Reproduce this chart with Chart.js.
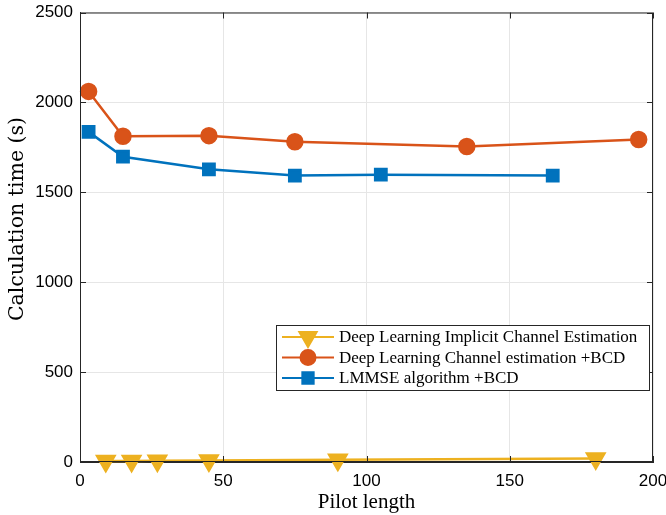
<!DOCTYPE html>
<html>
<head>
<meta charset="utf-8">
<script src="https://cdn.jsdelivr.net/npm/chart.js@4"></script>
<style>
  body { margin: 0; background: #fff; }
  #wrap { width: 666px; height: 515px; }
</style>
</head>
<body>
<div id="wrap"><canvas id="timeChart" width="666" height="515"></canvas></div>
<script>
// values
const implicitX = [9, 18, 27, 45, 90, 180];
const implicitY = [5, 6, 7, 8, 12, 20];
const dlBcdX = [3, 15, 45, 75, 135, 195];
const dlBcdY = [2061, 1812, 1815, 1781, 1755, 1794];
const lmmseX = [3, 15, 45, 75, 105, 165];
const lmmseY = [1836, 1698, 1628, 1593, 1598, 1593];
const seriesNames = [
  'Deep Learning Implicit Channel Estimation',
  'Deep Learning Channel estimation +BCD',
  'LMMSE algorithm +BCD'
];
const xTicks = [0, 50, 100, 150, 200];
const yTicks = [0, 500, 1000, 1500, 2000, 2500];
const yTitle = 'Calculation time (s)';

function toPoints(xs, ys) {
  return xs.map((x, i) => ({ x: x, y: ys[i] }));
}

const axisColor = '#262626';
const tickFont = { family: 'Liberation Sans, Arial, sans-serif', size: 17 };

// box + inner ticks, like the matlab axes
const boxPlugin = {
  id: 'box',
  afterDatasetsDraw(chart) {
    const { ctx, chartArea: a, scales } = chart;
    ctx.save();
    ctx.strokeStyle = axisColor;
    ctx.lineWidth = 1;
    ctx.strokeRect(a.left + 0.5, a.top + 0.5, a.right - a.left - 1, a.bottom - a.top - 1);
    ctx.beginPath();
    xTicks.forEach(v => {
      const px = Math.round(scales.x.getPixelForValue(v)) + 0.5;
      ctx.moveTo(px, a.bottom); ctx.lineTo(px, a.bottom - 6);
      ctx.moveTo(px, a.top); ctx.lineTo(px, a.top + 6);
    });
    yTicks.forEach(v => {
      const py = Math.round(scales.y.getPixelForValue(v)) + 0.5;
      ctx.moveTo(a.left, py); ctx.lineTo(a.left + 6, py);
      ctx.moveTo(a.right, py); ctx.lineTo(a.right - 6, py);
    });
    ctx.stroke();
    // y axis title sits a bit above the middle in the original
    ctx.translate(18, 219);
    ctx.rotate(-Math.PI / 2);
    ctx.font = '20.5px "DejaVu Serif", serif';
    ctx.fillStyle = '#000';
    ctx.textAlign = 'center';
    ctx.textBaseline = 'middle';
    ctx.fillText(yTitle, 0, 0);
    ctx.restore();
  }
};

// legend box inside the plot, lower right
const legendPlugin = {
  id: 'boxLegend',
  afterDraw(chart) {
    const { ctx } = chart;
    const x0 = 276, y0 = 325, w = 373, h = 65;
    ctx.save();
    ctx.fillStyle = '#fff';
    ctx.fillRect(x0, y0, w, h);
    ctx.strokeStyle = axisColor;
    ctx.lineWidth = 1;
    ctx.strokeRect(x0 + 0.5, y0 + 0.5, w, h);
    ctx.font = '17px "Liberation Serif", "DejaVu Serif", serif';
    ctx.textBaseline = 'middle';
    chart.data.datasets.forEach((ds, i) => {
      const cy = y0 + 12 + i * 20.5;
      ctx.strokeStyle = ds.borderColor;
      ctx.lineWidth = 2;
      ctx.beginPath();
      ctx.moveTo(x0 + 6, cy); ctx.lineTo(x0 + 58, cy);
      ctx.stroke();
      Chart.helpers.drawPoint(ctx, {
        pointStyle: ds.pointStyle, radius: ds.pointRadius,
        rotation: ds.pointRotation || 0, borderWidth: 1
      }, x0 + 32, cy);
      ctx.fillStyle = ds.pointBackgroundColor;
      ctx.fill();
      ctx.fillStyle = '#000';
      ctx.fillText(seriesNames[i], x0 + 63, cy + 1);
    });
    ctx.restore();
  }
};

const ctx = document.getElementById('timeChart').getContext('2d');
const myChart = new Chart(ctx, {
  type: 'line',
  data: {
    datasets: [
      {
        label: seriesNames[0],
        data: toPoints(implicitX, implicitY),
        borderColor: '#EDB120', backgroundColor: '#EDB120',
        pointBackgroundColor: '#EDB120', pointBorderColor: '#EDB120',
        pointStyle: 'triangle', pointRotation: 180, pointRadius: 10,
        borderWidth: 2.5
      },
      {
        label: seriesNames[1],
        data: toPoints(dlBcdX, dlBcdY),
        borderColor: '#D95319', backgroundColor: '#D95319',
        pointBackgroundColor: '#D95319', pointBorderColor: '#D95319',
        pointStyle: 'circle', pointRadius: 7.5,
        borderWidth: 2.5
      },
      {
        label: seriesNames[2],
        data: toPoints(lmmseX, lmmseY),
        borderColor: '#0072BD', backgroundColor: '#0072BD',
        pointBackgroundColor: '#0072BD', pointBorderColor: '#0072BD',
        pointStyle: 'rect', pointRadius: 8,
        borderWidth: 2.5
      }
    ]
  },
  options: {
    responsive: false,
    animation: false,
    clip: false,
    layout: { padding: { top: 8, right: 13, left: 0, bottom: 0 } },
    plugins: { legend: { display: false }, tooltip: { enabled: false } },
    scales: {
      x: {
        type: 'linear', min: 0, max: 200,
        afterFit(scale) { scale.height = 53; scale.paddingLeft = 0; scale.paddingRight = 0; },
        afterBuildTicks(scale) { scale.ticks = xTicks.map(v => ({ value: v })); },
        ticks: { color: '#000', font: tickFont, padding: 9, maxRotation: 0, callback: v => String(v) },
        grid: { color: '#e6e6e6', drawTicks: false },
        border: { color: axisColor },
        title: {
          display: true, text: 'Pilot length', color: '#000',
          font: { family: 'Liberation Serif, serif', size: 21 }, padding: { top: 0, bottom: 0 }
        }
      },
      y: {
        type: 'linear', min: 0, max: 2500,
        afterFit(scale) { scale.width = 80; scale.paddingTop = 0; scale.paddingBottom = 0; },
        afterBuildTicks(scale) { scale.ticks = yTicks.map(v => ({ value: v })); },
        ticks: { color: '#000', font: tickFont, padding: 7, callback: v => String(v) },
        grid: { color: '#e6e6e6', drawTicks: false },
        border: { color: axisColor }
      }
    }
  },
  plugins: [boxPlugin, legendPlugin]
});
</script>
</body>
</html>
